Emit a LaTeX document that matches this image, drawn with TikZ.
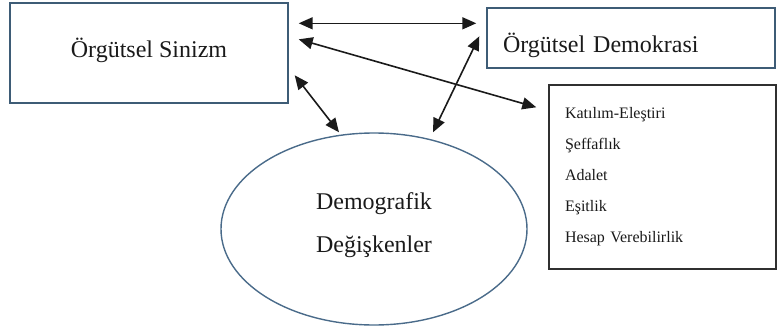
\documentclass[tikz,border=0pt]{standalone}
\usepackage{fontspec}
\setmainfont{Liberation Serif}
\usetikzlibrary{arrows.meta,shapes.geometric}
\definecolor{boxblue}{HTML}{3E5C76}
\definecolor{ovalblue}{HTML}{4A6B8A}
\definecolor{listgray}{HTML}{303030}
\definecolor{inkblack}{HTML}{1A1A1A}
\begin{document}
\begin{tikzpicture}[x=1pt,y=-1pt,
    bigbox/.style={draw=boxblue,line width=1.4pt,inner ysep=0pt,text=inkblack,font=\fontsize{24}{28}\selectfont},
    listbox/.style={draw=listgray,line width=1.4pt,inner xsep=16pt,inner ysep=0pt,text width=195pt,align=left,minimum height=184pt,text=inkblack,font=\fontsize{16}{31}\selectfont},
    oval/.style={ellipse,draw=ovalblue,line width=1.4pt,inner sep=0pt,minimum width=306pt,minimum height=192pt,align=center,text depth=13pt,text=inkblack,font=\fontsize{24}{43}\selectfont},
    link/.style={{Triangle[length=14pt,width=12pt]}-{Triangle[length=14pt,width=12pt]},draw=inkblack,line width=1.6pt}]
  \useasboundingbox (0,0) rectangle (777,327);
  \draw
    (149,53) node[bigbox,minimum width=278pt,text height=54pt,text depth=46pt] (sinizm){Örgütsel Sinizm}
    (631,38) node[bigbox,inner xsep=16pt,text width=256pt,align=left,text height=44pt,text depth=16pt] (demokrasi){Örgütsel Demokrasi}
    (662.5,177) node[listbox] (boyutlar){Katılım-Eleştiri\\Şeffaflık\\Adalet\\Eşitlik\\Hesap Verebilirlik}
    (374,229) node[oval] (demografik){Demografik\\Değişkenler};
  \begin{scope}[link]
    \draw ([xshift=10pt,yshift=-21pt]sinizm.north east) to ([xshift=-10pt,yshift=-16pt]demokrasi.north west);
    \draw ([xshift=10pt,yshift=-37pt]sinizm.north east) to ([xshift=-12pt,yshift=-23pt]boyutlar.north west);
    \draw ([xshift=6pt,yshift=-73pt]sinizm.north east) to ([xshift=-35pt]demografik.north);
    \draw ([xshift=-7pt,yshift=-29pt]demokrasi.north west) to ([xshift=59pt]demografik.north);
  \end{scope}
\end{tikzpicture}
\end{document}
